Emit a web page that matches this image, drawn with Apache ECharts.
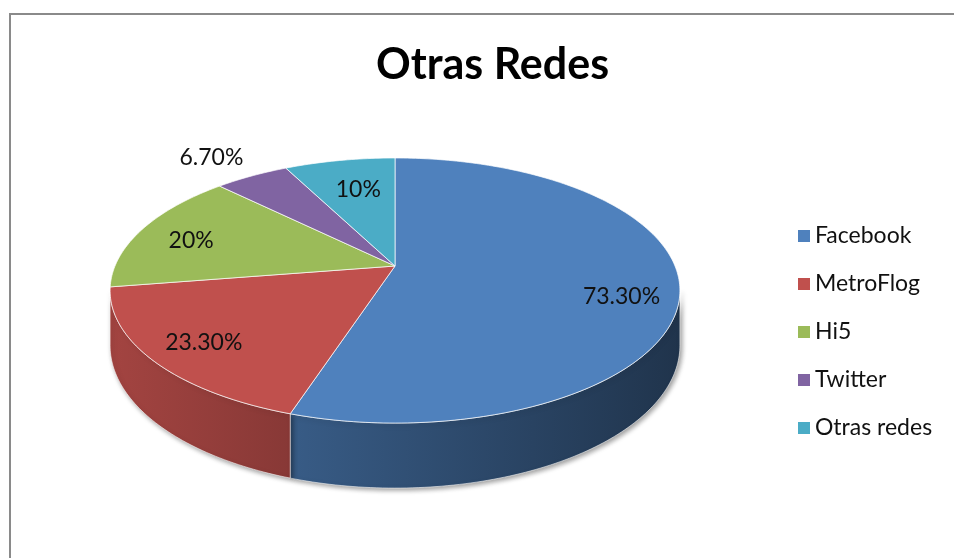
<!DOCTYPE html>
<html>
<head>
<meta charset="utf-8">
<script src="https://cdn.jsdelivr.net/npm/echarts@6/dist/echarts.min.js"></script>
<style>
  html, body { margin: 0; padding: 0; background: #fff; overflow: hidden; }
  #main { width: 954px; height: 558px; }
</style>
</head>
<body>
<div id="main"></div>
<script>
// datos del gráfico
const redes = ['Facebook', 'MetroFlog', 'Hi5', 'Twitter', 'Otras redes']
const valores = [73.3, 23.3, 20, 6.7, 10]
const colores = ['#4F81BD', '#C0504D', '#9BBB59', '#8064A2', '#4BACC6']

// ajuste de etiquetas: radio relativo y desplazamiento en px
const etiquetaR = [0.8, 0.8, 0.8, 1.25, 0.8]
const etiquetaDx = [0, -3, 0, -10, 9]
const etiquetaDy = [14, 3, 5, 1, 11]

// geometría del pastel en perspectiva
const CX = 395, CY = 266, RX = 280, RY = 128, K = 0.185, ALTO = 53
const PASO = Math.PI / 180
// ángulos de la silueta lateral (donde el borde es vertical)
const SIL0 = Math.acos(-K), SIL1 = 2 * Math.PI - Math.acos(-K)

const total = valores.reduce((a, b) => a + b, 0)

function proyectar(ang, r, dz) {
  const u = r * Math.sin(ang), v = -r * Math.cos(ang)
  const s = 1 / (1 - K * v)
  return [CX + RX * u * s, CY + (RY * v + dz) * s]
}

function arco(a0, a1, r, dz) {
  const pts = []
  const n = Math.max(2, Math.ceil(Math.abs(a1 - a0) / PASO))
  for (let j = 0; j <= n; j++) {
    pts.push(proyectar(a0 + (a1 - a0) * j / n, r, dz))
  }
  return pts
}

function oscurecer(hex, f) {
  const n = parseInt(hex.slice(1), 16)
  const r = Math.round(((n >> 16) & 255) * f)
  const g = Math.round(((n >> 8) & 255) * f)
  const b = Math.round((n & 255) * f)
  return 'rgb(' + r + ',' + g + ',' + b + ')'
}

function formato(v) {
  return (v % 1 === 0 ? v : v.toFixed(2)) + '%'
}

function dibujarPorcion(params) {
  const i = params.seriesIndex
  let acum = 0
  for (let j = 0; j < i; j++) acum += valores[j]
  const a0 = acum / total * 2 * Math.PI
  const a1 = (acum + valores[i]) / total * 2 * Math.PI
  const hijos = []

  // lateral visible (parte frontal)
  const lo = Math.max(a0, SIL0), hi = Math.min(a1, SIL1)
  if (lo < hi) {
    const lado = arco(lo, hi, 1, 0).concat(arco(hi, lo, 1, ALTO))
    hijos.push({
      type: 'polygon',
      z2: 1,
      shape: { points: lado },
      style: {
        fill: new echarts.graphic.LinearGradient(110, 0, 680, 0, [
          { offset: 0, color: oscurecer(colores[i], 0.85) },
          { offset: 1, color: oscurecer(colores[i], 0.40) }
        ], true),
        stroke: 'rgba(255,255,255,0.55)',
        lineWidth: 1,
        shadowBlur: 5,
        shadowColor: 'rgba(0,0,0,0.4)',
        shadowOffsetX: 2,
        shadowOffsetY: 2
      }
    })
  }

  // cara superior
  const cara = [[CX, CY]].concat(arco(a0, a1, 1, 0))
  hijos.push({
    type: 'polygon',
    z2: 10,
    shape: { points: cara },
    style: { fill: colores[i], stroke: 'rgba(255,255,255,0.7)', lineWidth: 1 }
  })

  // etiqueta
  const p = proyectar((a0 + a1) / 2, etiquetaR[i], 0)
  hijos.push({
    type: 'text',
    z2: 20,
    style: {
      text: formato(valores[i]),
      x: p[0] + etiquetaDx[i],
      y: p[1] + etiquetaDy[i],
      fill: '#111',
      font: '23px Lato',
      align: 'center',
      verticalAlign: 'middle'
    }
  })
  return { type: 'group', children: hijos }
}

let chartDom = document.getElementById('main')
let myChart = echarts.init(chartDom)

let option = {
  animation: false,
  color: colores,
  title: {
    text: 'Otras Redes',
    left: 371,
    top: 39,
    textStyle: { fontFamily: 'Lato', fontWeight: 'bold', fontSize: 43, color: '#000' }
  },
  legend: {
    orient: 'vertical',
    left: 793,
    top: 219,
    icon: 'rect',
    itemWidth: 12,
    itemHeight: 12,
    itemGap: 24,
    data: redes,
    textStyle: { fontFamily: 'Lato', fontSize: 23, lineHeight: 24, color: '#111' }
  },
  // marco del gráfico (solo lados izquierdo y superior visibles)
  graphic: [
    { type: 'line', z: -1, shape: { x1: 10, y1: 13, x2: 10, y2: 560 }, style: { stroke: '#8a8a8a', lineWidth: 2 } },
    { type: 'line', z: -1, shape: { x1: 9, y1: 14, x2: 960, y2: 14 }, style: { stroke: '#8a8a8a', lineWidth: 2 } }
  ],
  series: redes.map((nombre, i) => ({
    type: 'custom',
    name: nombre,
    coordinateSystem: 'none',
    silent: true,
    data: [[valores[i]]],
    renderItem: dibujarPorcion
  }))
}
myChart.setOption(option)
</script>
</body>
</html>
